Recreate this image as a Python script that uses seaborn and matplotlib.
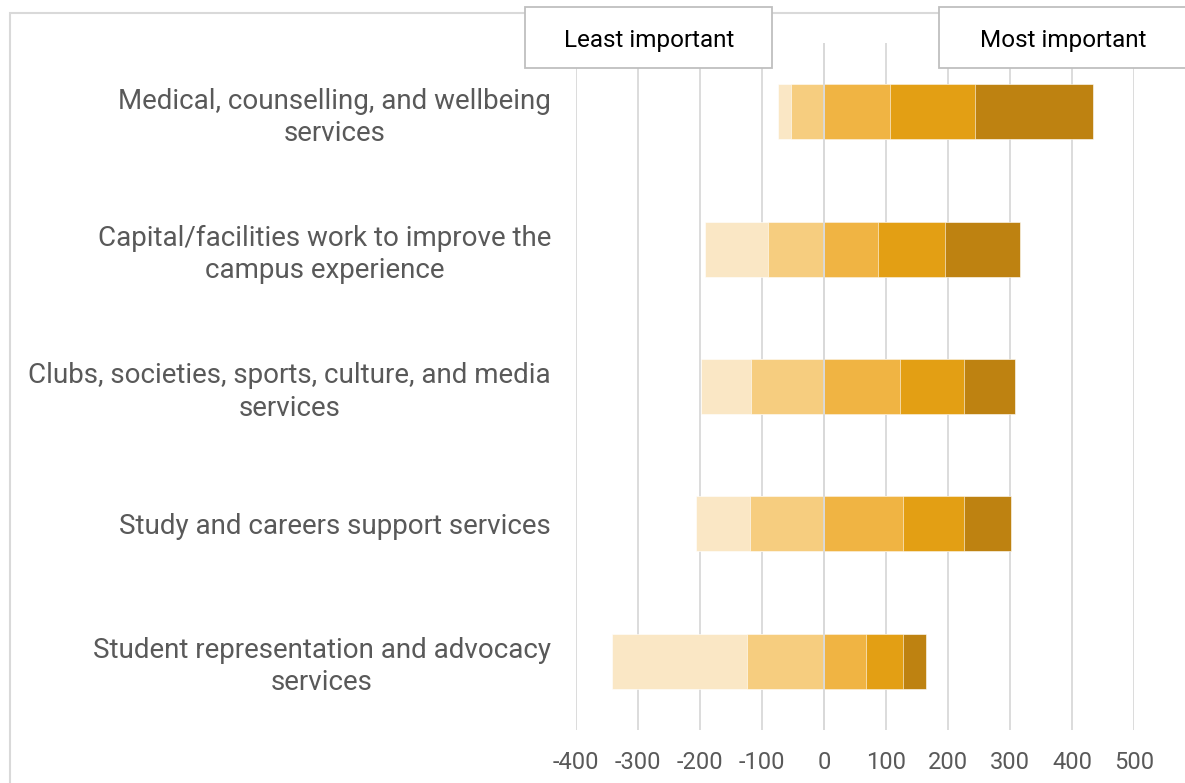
import matplotlib
matplotlib.use("Agg")
import matplotlib.pyplot as plt
import seaborn as sns
import pandas as pd
import numpy as np
from matplotlib.patches import Rectangle

# Categories (top to bottom) and the five response levels
categories = [
    "Medical, counselling, and wellbeing\nservices",
    "Capital/facilities work to improve the\ncampus experience",
    "Clubs, societies, sports, culture, and media\nservices",
    "Study and careers support services",
    "Student representation and advocacy\nservices",
]
least_2 = [20, 101, 82, 86, 218]    # least important (far left)
least_1 = [54, 91, 117, 120, 124]   # somewhat less important
most_1 = [106, 87, 123, 127, 67]
most_2 = [137, 108, 103, 99, 61]
most_3 = [191, 121, 82, 75, 37]     # most important (far right)

colors = ["#FAE7C5", "#F6CD7F", "#F0B443", "#E39F14", "#BE8211"]
x_ticks = list(range(-400, 501, 100))

df = pd.DataFrame({
    "category": categories,
    "l2": least_2, "l1": least_1,
    "m1": most_1, "m2": most_2, "m3": most_3,
})
df["neg_outer"] = -(df["l2"] + df["l1"])
df["neg_inner"] = -df["l1"]
df["pos_3"] = df["m1"] + df["m2"] + df["m3"]
df["pos_2"] = df["m1"] + df["m2"]
df["pos_1"] = df["m1"]

sns.set_style("white")
plt.rcParams["font.family"] = ["Roboto", "DejaVu Sans"]

fig = plt.figure(figsize=(11.85, 7.83), dpi=100)
ax = fig.add_axes([576 / 1185, 1 - 730 / 783, (1134 - 576) / 1185, (730 - 43) / 783])

# stacked by overlapping cumulative bars, longest drawn first
layers = [("neg_outer", colors[0]), ("neg_inner", colors[1]),
          ("pos_3", colors[4]), ("pos_2", colors[3]), ("pos_1", colors[2])]
for col, c in layers:
    sns.barplot(data=df, x=col, y="category", color=c, width=0.4, saturation=1,
                edgecolor="white", linewidth=0.4, ax=ax, zorder=2)

ax.set_xlim(-400, 500)
ax.set_xticks(x_ticks)
ax.set_xticklabels([str(t) for t in x_ticks])
for t in x_ticks:
    ax.axvline(t, color="#D9D9D9", lw=1.3, zorder=1)
ax.axvline(0, color="#D9D9D9", lw=1.3, zorder=3)

ax.set_xlabel("")
ax.set_ylabel("")
for s in ax.spines.values():
    s.set_visible(False)
ax.tick_params(axis="x", length=0, pad=15, labelsize=17, labelcolor="#595959")
ax.tick_params(axis="y", length=0, pad=18, labelsize=20, labelcolor="#595959")
for lbl in ax.get_yticklabels():
    lbl.set_multialignment("center")
    lbl.set_linespacing(1.24)

# outer chart border
fig.patches.append(Rectangle((10 / 1185, -0.1), 1.2, 1 - 13 / 783 + 0.1,
                             transform=fig.transFigure, fill=False,
                             edgecolor="#D9D9D9", lw=1.5, zorder=0))

# label boxes at the top
for x0, x1, cx, txt in [(525, 772, 649, "Least important"),
                        (939, 1200, 1063, "Most important")]:
    fig.patches.append(Rectangle((x0 / 1185, 1 - 68 / 783), (x1 - x0) / 1185, 61 / 783,
                                 transform=fig.transFigure, facecolor="white",
                                 edgecolor="#BFBFBF", lw=1.3, zorder=5))
    fig.text(cx / 1185, 1 - 40 / 783, txt, ha="center", va="center",
             fontsize=17.5, color="black", zorder=6)

fig.savefig("out.png", dpi=100)
